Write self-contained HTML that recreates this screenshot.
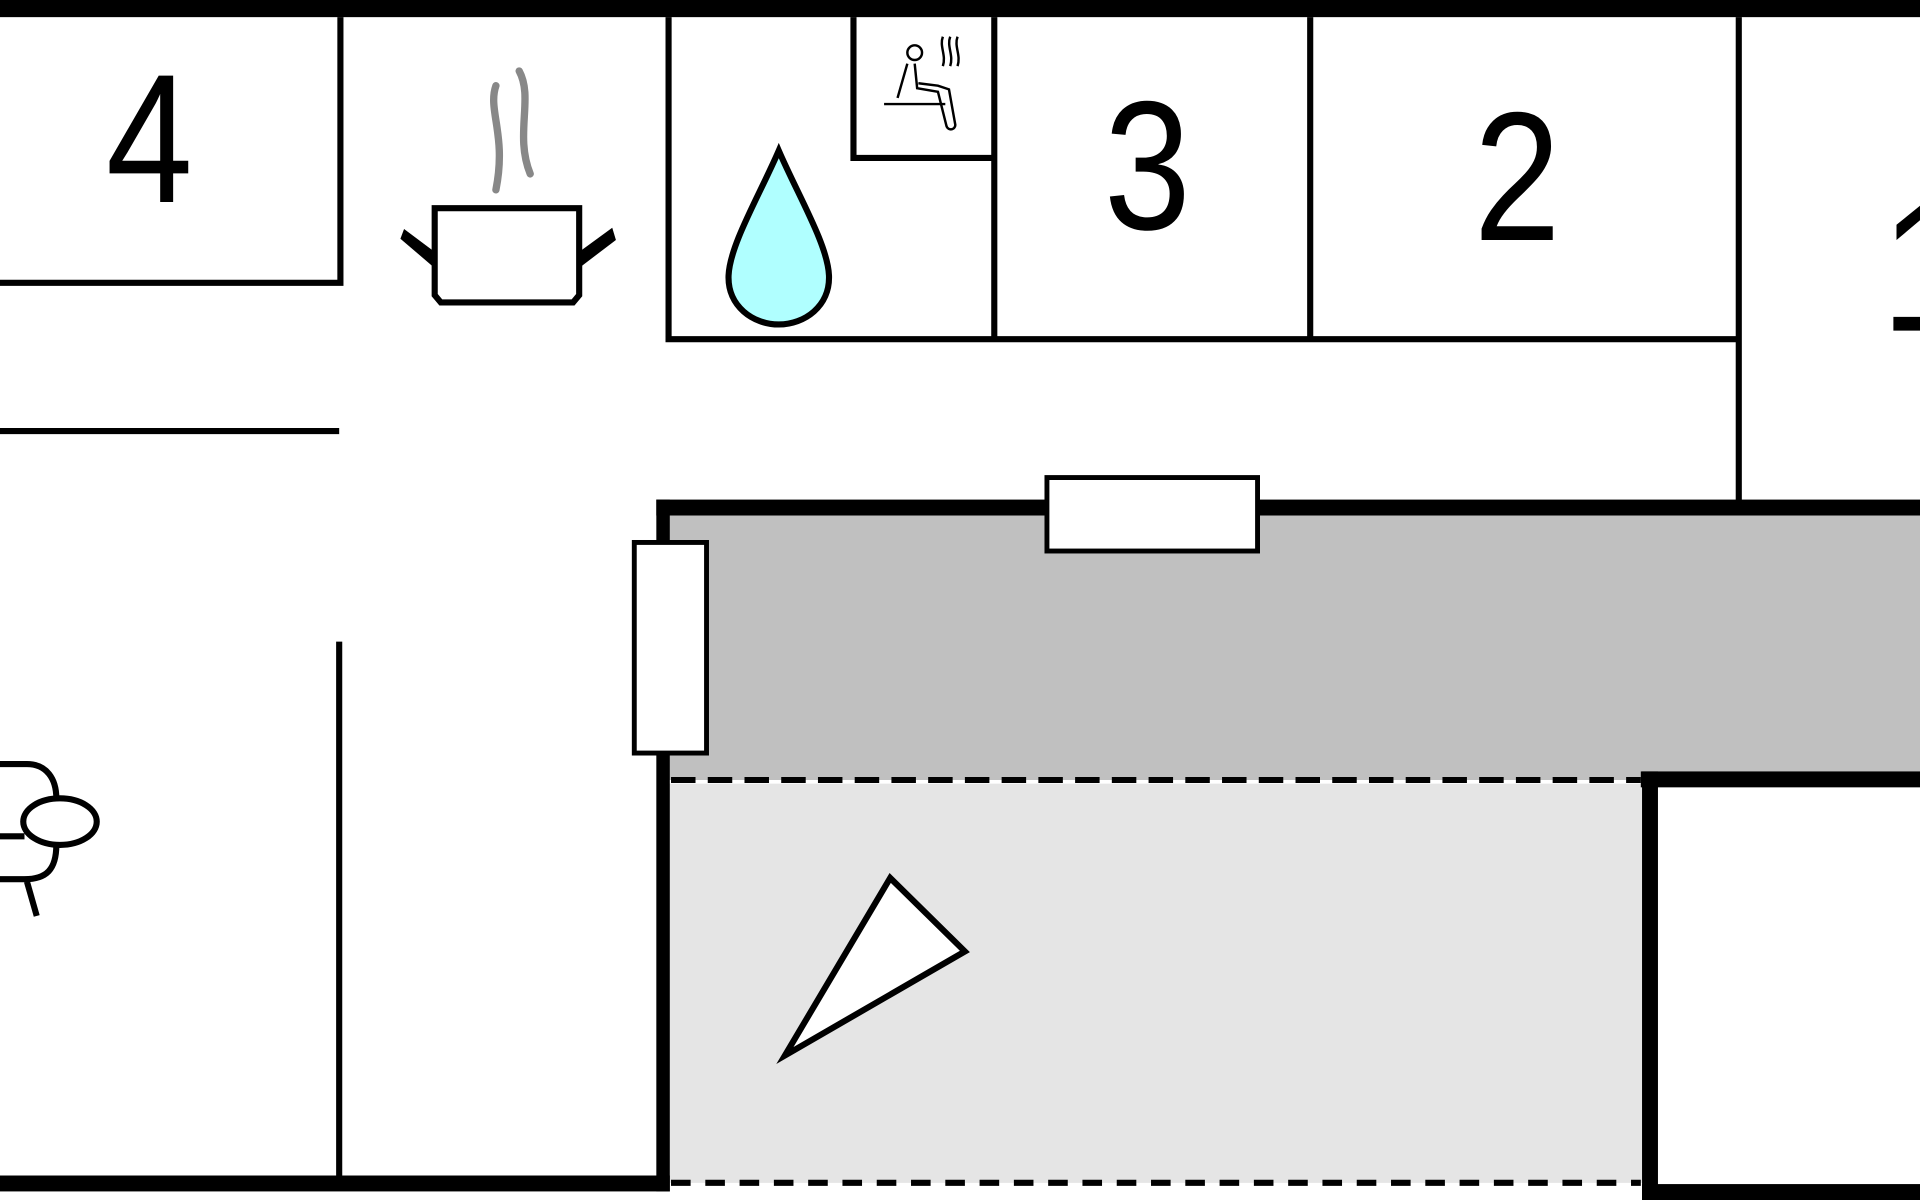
<!DOCTYPE html>
<html><head><meta charset="utf-8"><style>html,body{margin:0;padding:0;background:#fff}svg{display:block}</style></head>
<body>
<svg width="1920" height="1200" viewBox="0 0 1568 980" xmlns="http://www.w3.org/2000/svg">
<rect width="1568" height="980" fill="#fff"/>
<rect x="546" y="420" width="1022" height="217" fill="#c0c0c0"/>
<rect x="546" y="640" width="796" height="326" fill="#e5e5e5"/>
<rect x="0" y="0" width="1568" height="14" fill="#000"/>
<g stroke="#000" stroke-width="5" fill="none">
<polyline points="0,231 278,231 278,14"/>
<line x1="0" y1="352" x2="277" y2="352"/>
<line x1="277" y1="524" x2="277" y2="962"/>
<polyline points="546,14 546,277 1418,277"/>
<line x1="812" y1="14" x2="812" y2="277"/>
<polyline points="697,14 697,129 812,129"/>
<line x1="1070" y1="14" x2="1070" y2="277"/>
<line x1="1420" y1="14" x2="1420" y2="412"/>
</g>
<rect x="536" y="408" width="1032" height="13" fill="#000"/>
<rect x="536" y="408" width="11" height="565" fill="#000"/>
<rect x="0" y="960" width="547" height="13" fill="#000"/>
<rect x="1340" y="630" width="228" height="13" fill="#000"/>
<rect x="1341" y="630" width="13" height="350" fill="#000"/>
<rect x="1341" y="967" width="227" height="13" fill="#000"/>
<line x1="548" y1="637" x2="1340" y2="637" stroke="#000" stroke-width="5" stroke-dasharray="20,10"/>
<line x1="548" y1="966" x2="1340" y2="966" stroke="#000" stroke-width="5" stroke-dasharray="16,12"/>
<rect x="855" y="390" width="172" height="60" fill="#fff" stroke="#000" stroke-width="4"/>
<rect x="518" y="443" width="59" height="172" fill="#fff" stroke="#000" stroke-width="4"/>
<g font-family="Liberation Sans, sans-serif" font-size="150" fill="#000" text-anchor="middle">
<text transform="translate(122,165) scale(0.85,1)">4</text>
<text transform="translate(937,187) scale(0.85,1)">3</text>
<text transform="translate(1239,196) scale(0.85,1)">2</text>
<text transform="translate(1572,270) scale(0.85,1)">1</text>
</g>
<path d="M405,70 C398,90 414,110 405,155" stroke="#888" stroke-width="6" fill="none" stroke-linecap="round"/>
<path d="M424,58 C436,80 420,110 433,142" stroke="#888" stroke-width="6" fill="none" stroke-linecap="round"/>
<path d="M355,170 L473,170 L473,241 L468,247 L360,247 L355,241 Z" fill="#fff" stroke="#000" stroke-width="5"/>
<path d="M354,205 L330,187 L327,195 L354,218 Z" fill="#000"/>
<path d="M474,205 L500,186 L503,196 L474,218 Z" fill="#000"/>
<path d="M636,123 C620,160 596,200 595,225 C594,250 615,265 636,265 C657,265 678,250 677,225 C676,200 652,160 636,123 Z" fill="#b0ffff" stroke="#000" stroke-width="5"/>
<g stroke="#000" stroke-width="2" fill="none">
<circle cx="747" cy="43" r="6"/>
<path d="M741,52 L733,80 M747,52 L749,72 L766,75 L773,103 A3,3 0 0 0 780,101 L775,73 L766,70 L750,68"/>
<line x1="722" y1="85" x2="772" y2="85"/>
<path d="M770,30 c-3,8 3,15 0,24 M776,30 c-3,8 3,15 0,24 M782,30 c-3,8 3,15 0,24"/>
</g>
<polygon points="727,717 788,777 641,862" fill="#fff" stroke="#000" stroke-width="5"/>
<g stroke="#000" stroke-width="5" fill="none">
<path d="M0,624 L22,624 C38,624 46,636 46,652"/>
<path d="M0,683 L20,683"/>
<path d="M46,690 C46,710 38,718 20,718 L0,718"/>
<line x1="22" y1="720" x2="30" y2="748"/>
<ellipse cx="49" cy="671" rx="30" ry="19" fill="#fff"/>
</g>
</svg>
</body></html>
